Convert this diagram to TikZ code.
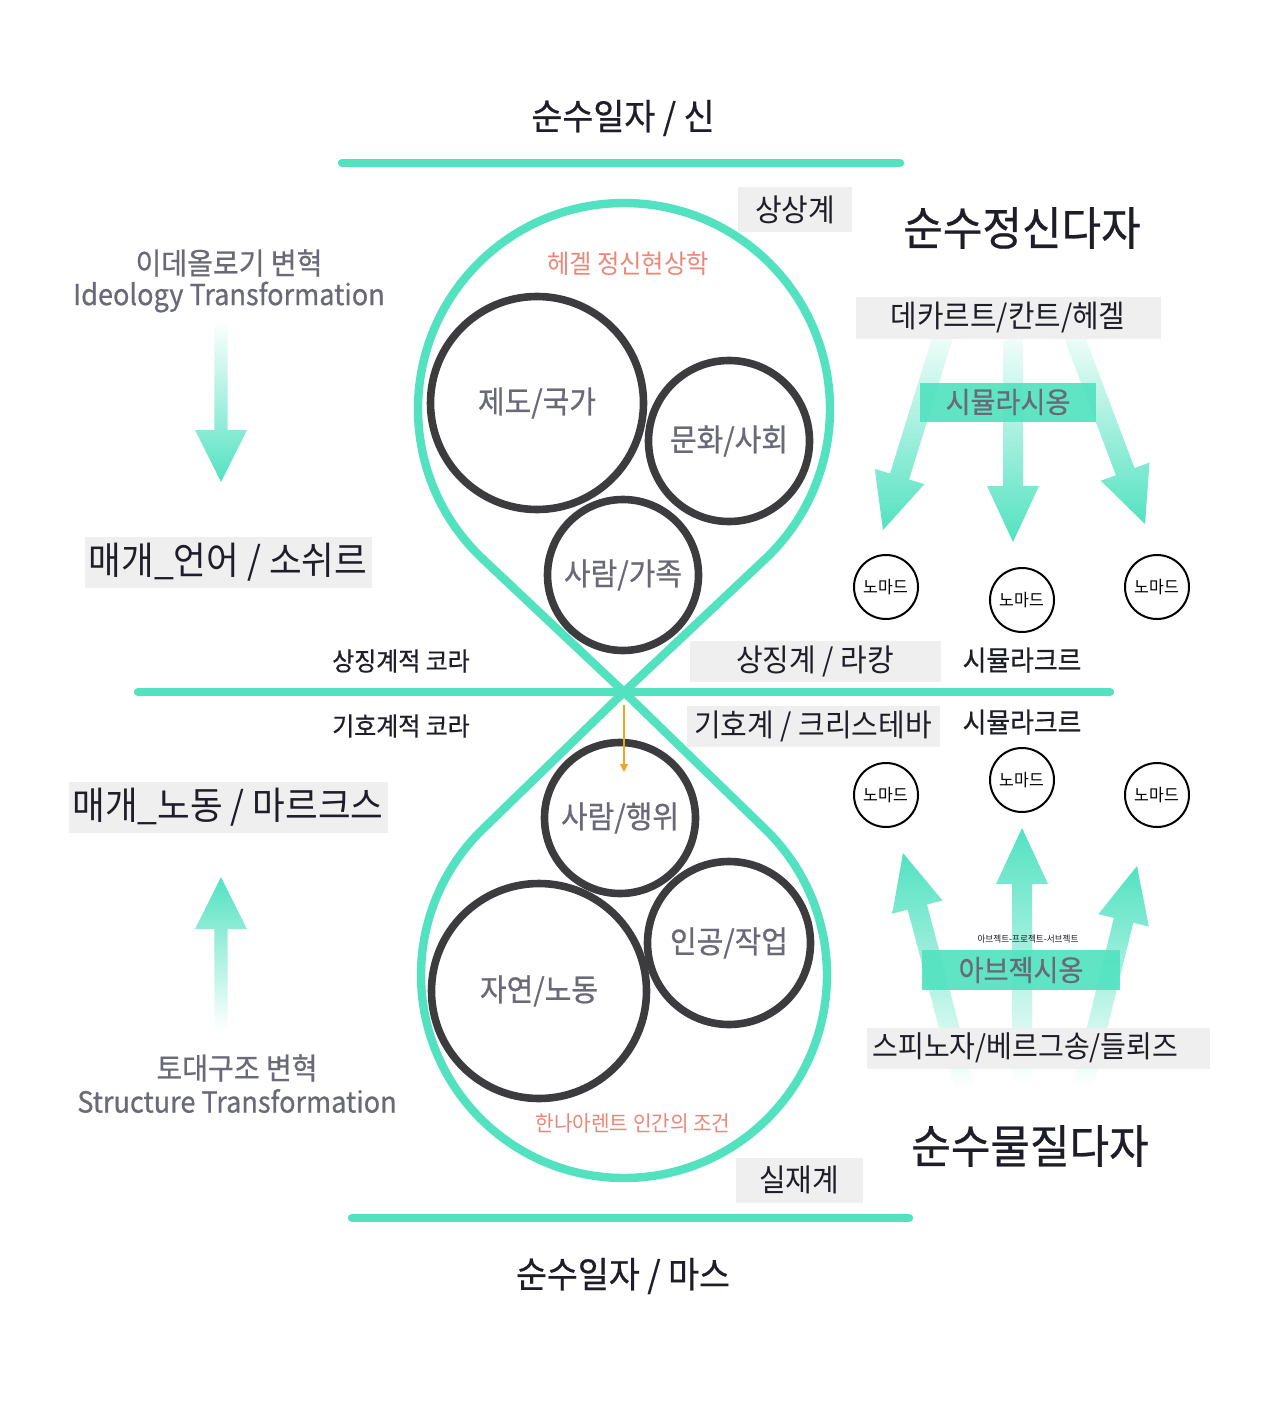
\documentclass[tikz,border=0pt]{standalone}
\usepackage{fontspec}
\setmainfont[FakeStretch=0.935]{Noto Sans CJK KR}
\newfontfamily\medfont[FakeStretch=0.935, FakeBold=0.6]{Noto Sans CJK KR}
\usetikzlibrary{arrows.meta,calc}

\definecolor{mint}{RGB}{82,226,192}
\definecolor{boxgray}{RGB}{239,239,239}
\definecolor{ringgray}{RGB}{60,60,62}
\definecolor{labelgray}{RGB}{105,105,120}
\definecolor{salmon}{RGB}{236,134,120}
\definecolor{ink}{RGB}{30,30,40}
\definecolor{amber}{RGB}{240,165,40}

\tikzset{
  mintline/.style={draw=mint, line width=4.2pt, line cap=round, line join=round},
  ring/.style={circle, draw=ringgray, line width=3.8pt, fill=white, inner sep=0pt,
    text=labelgray, font=\medfont\fontsize{15.5}{18}\selectfont},
  nomad/.style={circle, draw=black, line width=1pt, fill=white, inner sep=0pt,
    minimum size=32pt, font=\fontsize{8.6}{10}\selectfont},
  graybox/.style={fill=boxgray, inner sep=0pt, text=ink, font=\fontsize{15.5}{18}\selectfont},
  mintbox/.style={fill=mint, fill opacity=0.92, text opacity=1, inner sep=0pt,
    text=labelgray, font=\medfont\fontsize{14.5}{17}\selectfont},
  graytext/.style={text=labelgray, inner sep=0pt, font=\medfont\fontsize{15}{18}\selectfont},
  inktext/.style={text=ink, inner sep=0pt},
  redtext/.style={text=salmon, inner sep=0pt},
}

% #2 start, #3 tip, #4 half shaft, #5 half head, #6 head length
\newcommand\fatarrow[6][]{%
  \coordinate (fa) at ($(#3)!#6!(#2)$);
  \shade[#1] ($(#2)!#4!90:(#3)$) -- ($(fa)!#4!90:(#3)$) -- ($(fa)!#5!90:(#3)$)
    -- (#3) -- ($(fa)!#5!-90:(#3)$) -- ($(fa)!#4!-90:(#3)$) -- ($(#2)!#4!-90:(#3)$) -- cycle;
}

\begin{document}
\begin{tikzpicture}[x=0.5pt, y=-0.5pt]
            \fill[white] (0,0) rectangle (1280,1401);
            \useasboundingbox (0,0) rectangle (1280,1401);

            \coordinate (topL) at (342,163);
            \coordinate (topR) at (900,163);
            \coordinate (midL) at (138,692);
            \coordinate (midR) at (1110,692);
            \coordinate (botL) at (352,1218);
            \coordinate (botR) at (909,1218);
            \coordinate (tip) at (624,692);
            \coordinate (cUp) at (624,409);
            \coordinate (cDown) at (624,975);

            \draw[mintline] (topL) -- (topR);
            \draw[mintline] (midL) -- (midR);
            \draw[mintline] (botL) -- (botR);

            % teardrops
            \draw[mintline] (tip) -- ($(cUp)+(133.3:206)$) arc[start angle=133.3, end angle=406.7, radius=206] -- cycle;
            \draw[mintline] (tip) -- ($(cDown)+(314.2:203)$) arc[start angle=314.2, end angle=585.8, radius=203] -- cycle;

            \node[inktext, font=\medfont\fontsize{18}{20}\selectfont] (god) at (623,118) {순수일자 / 신};
            \node[inktext, font=\medfont\fontsize{18}{20}\selectfont] (mars) at (623,1276) {순수일자 / 마스};
            \node[inktext, font=\medfont\fontsize{23}{26}\selectfont] (spirit) at (1022,228) {순수정신다자};
            \node[inktext, font=\medfont\fontsize{23}{26}\selectfont] (matter) at (1030,1146) {순수물질다자};

            \node[graybox, minimum width=57pt, minimum height=22.5pt] (imag) at (795,210) {상상계};
            \node[graybox, minimum width=63.5pt, minimum height=22.5pt] (real) at (799,1180) {실재계};

            \node[redtext, font=\fontsize{13}{15}\selectfont] (hegel) at (628,264) {헤겔 정신현상학};
            \node[redtext, font=\fontsize{10.8}{13}\selectfont] (arendt) at (633,1123) {한나아렌트 인간의 조건};

            % circles in the upper drop
            \node[ring, minimum size=106.5pt] (inst) at (537,403) {제도/국가};
            \node[ring, minimum size=80.5pt] (cult) at (729,441) {문화/사회};
            \node[ring, minimum size=75.5pt] (fam) at (623,575) {사람/가족};
            % circles in the lower drop
            \node[ring, minimum size=75.5pt] (act) at (620,818) {사람/행위};
            \node[ring, minimum size=81.5pt] (art) at (729,943) {인공/작업};
            \node[ring, minimum size=107.5pt] (nat) at (539,991) {자연/노동};

            \coordinate (o1) at (624,705);
            \coordinate (o2) at (624,772);
            \draw[amber, line width=0.8pt, -{Triangle[length=4pt, width=4pt]}] (o1) -- (o2);

            \node[inktext, font=\medfont\fontsize{12.8}{15}\selectfont] (chora1) at (401,661) {상징계적 코라};
            \node[inktext, font=\medfont\fontsize{12.8}{15}\selectfont] (chora2) at (401,726) {기호계적 코라};
            \node[graybox, minimum width=125.5pt, minimum height=20.5pt] (lacan) at (815,661) {상징계 / 라캉};
            \node[graybox, minimum width=126.5pt, minimum height=20.5pt] (krist) at (813,726) {기호계 / 크리스테바};

            % left side
            \node[graytext] (ideo1) at (229,263) {이데올로기 변혁};
            \node[graytext, font=\medfont\fontsize{14.5}{18}\selectfont] (ideo2) at (229,297) {Ideology Transformation};
            \coordinate (la1) at (221,320);
            \coordinate (la2) at (221,482);
            \fatarrow[top color=white, bottom color=mint]{la1}{la2}{3.3pt}{13pt}{26pt}
            \node[graybox, font=\fontsize{19}{22}\selectfont, minimum width=143.5pt, minimum height=25.5pt] (saus) at (228,562) {매개\_언어 / 소쉬르};
            \node[graybox, font=\fontsize{19}{22}\selectfont, minimum width=159.5pt, minimum height=25.5pt] (marx) at (228,807) {매개\_노동 / 마르크스};
            \coordinate (lb1) at (221,1030);
            \coordinate (lb2) at (221,877);
            \fatarrow[top color=mint, bottom color=white]{lb1}{lb2}{3.3pt}{13pt}{26pt}
            \node[graytext] (struc1) at (237,1068) {토대구조 변혁};
            \node[graytext, font=\medfont\fontsize{14.5}{18}\selectfont] (struc2) at (237,1101) {Structure Transformation};

            % right side, top
            \coordinate (ra1) at (948,320);
            \coordinate (ra2) at (883,530);
            \coordinate (rb1) at (1013,320);
            \coordinate (rb2) at (1013,542);
            \coordinate (rc1) at (1068,320);
            \coordinate (rc2) at (1145,524);
            \fatarrow[top color=white, bottom color=mint]{ra1}{ra2}{5pt}{13pt}{28pt}
            \fatarrow[top color=white, bottom color=mint]{rb1}{rb2}{5pt}{13pt}{28pt}
            \fatarrow[top color=white, bottom color=mint]{rc1}{rc2}{5pt}{13pt}{28pt}
            \node[graybox, font=\fontsize{15.4}{18}\selectfont, minimum width=152.5pt, minimum height=21pt] (philo) at (1008,318) {데카르트/칸트/헤겔};
            \node[mintbox, minimum width=88pt, minimum height=19.5pt] (simul) at (1008,402) {시뮬라시옹};

            \node[nomad] (n1) at (886,587) {노마드};
            \node[nomad] (n2) at (1022,600) {노마드};
            \node[nomad] (n3) at (1157,587) {노마드};
            \node[inktext, font=\medfont\fontsize{13.8}{16}\selectfont] (scr1) at (1022,660) {시뮬라크르};
            \node[inktext, font=\medfont\fontsize{13.8}{16}\selectfont] (scr2) at (1022,722) {시뮬라크르};
            \node[nomad] (n4) at (886,795) {노마드};
            \node[nomad] (n5) at (1022,780) {노마드};
            \node[nomad] (n6) at (1157,795) {노마드};

            % right side, bottom
            \coordinate (rd1) at (965,1087);
            \coordinate (rd2) at (903,853);
            \coordinate (re1) at (1022,1085);
            \coordinate (re2) at (1022,828);
            \coordinate (rf1) at (1083,1085);
            \coordinate (rf2) at (1137,866);
            \fatarrow[top color=mint, bottom color=white]{rd1}{rd2}{5pt}{13pt}{28pt}
            \fatarrow[top color=mint, bottom color=white]{re1}{re2}{5pt}{13pt}{28pt}
            \fatarrow[top color=mint, bottom color=white]{rf1}{rf2}{5pt}{13pt}{28pt}
            \node[inktext, font=\fontsize{4.6}{6}\selectfont] (abjs) at (1028,939) {아브젝트-프로젝트-서브젝트};
            \node[mintbox, minimum width=99pt, minimum height=20pt] (abj) at (1021,970) {아브젝시옹};
            \node[graybox, font=\fontsize{15}{18}\selectfont, text width=165.5pt, inner xsep=3pt, align=left, minimum height=20.5pt] (spin) at (1038,1048) {스피노자/베르그송/들뢰즈};

\end{tikzpicture}
\end{document}
